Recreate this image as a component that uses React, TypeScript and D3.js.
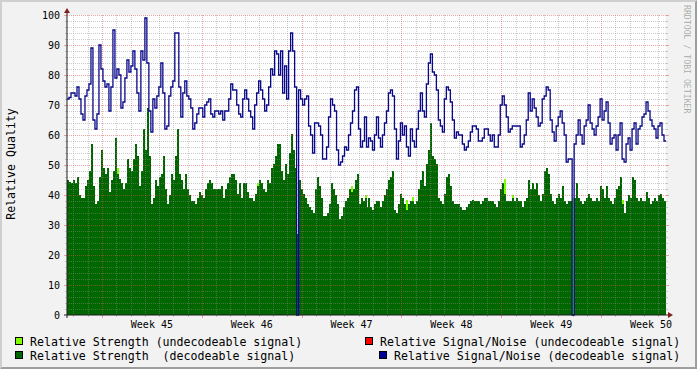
import React, { useEffect } from 'react';
import * as d3 from 'd3';

const WEEK_LABELS = ['Week 45', 'Week 46', 'Week 47', 'Week 48', 'Week 49', 'Week 50'];
const Y_TICKS = [0, 10, 20, 30, 40, 50, 60, 70, 80, 90, 100];

// Relative Signal/Noise (decodeable signal), one value per sample (~3.4 h)
const SNR_DECODEABLE = [
  72, 72.5, 74, 74, 73, 76, 72, 67, 65, 73, 75, 77, 89, 65, 62, 67, 90, 82, 78, 76,
  77, 68, 76, 95, 79, 82, 80, 69, 71, 79, 85, 81, 83, 88, 82, 74, 68, 88, 85, 99,
  84, 68, 61, 72, 69, 73, 76, 84, 74, 62, 63, 73, 76, 78, 94, 94, 76, 66, 74, 78,
  73, 72, 69, 62, 64, 67, 69, 69, 66, 70, 71, 72, 67, 66, 68,
  68, 67, 68, 65, 68, 68, 72, 77, 75, 75, 70, 67, 66, 72, 75, 72, 68, 66, 62, 70,
  74, 78, 75, 72, 68, 70, 76, 82, 80, 88, 87, 80, 88, 74, 83, 72, 88, 94, 88, 76,
  0, 75, 72, 70, 72, 73, 63, 60, 54, 64, 64, 63, 60, 52, 52, 56, 66, 72, 70, 68,
  55, 50, 51, 53, 56, 55, 60, 64, 68, 75, 76, 62, 56, 58, 66,
  56, 59, 58, 55, 60, 66, 59, 56, 60, 64, 68, 74, 75, 73, 62, 52, 58, 64, 60, 63,
  56, 53, 62, 58, 56, 62, 68, 74, 68, 66, 77, 84, 87, 81, 80, 75, 65, 63, 61, 72,
  76, 75, 71, 65, 59, 61, 60, 60, 57, 55, 56, 58, 61, 63, 63, 62, 58, 58, 59, 62,
  62, 60, 58, 60, 56, 56, 60, 70, 73, 70, 66, 61, 62, 63, 63,
  63, 63, 56, 57, 60, 65, 74, 68, 72, 69, 66, 63, 64, 72, 73, 76, 75, 65, 61, 58,
  63, 66, 68, 64, 60, 51, 52, 52, 0, 57, 60, 65, 60, 57, 63, 65, 70, 64, 62, 60,
  63, 66, 72, 65, 68, 71, 64, 57, 59, 60, 55, 60, 64, 52, 51, 57, 59, 55, 62, 64,
  57, 62, 63, 66, 67, 71, 68, 65, 63, 62, 59, 63, 64, 60, 58,
];

// Relative Strength (decodeable signal)
const STRENGTH_DECODEABLE = [
  45, 44.4, 44, 45, 44, 46, 40, 39, 39, 43, 45, 48, 57, 43, 37, 38, 46, 55, 49, 47,
  49, 41, 45, 48, 59, 47, 45.5, 44, 42, 44, 52, 49, 48, 52, 57, 53, 43, 48, 62, 55,
  69, 53, 37, 39, 45, 43, 46, 47, 53, 42, 37, 40, 47, 45, 53, 62, 47, 45, 42, 47,
  42, 40, 38, 38, 37, 39, 41, 40, 39, 42, 44, 45, 44, 42, 42,
  42, 42, 43, 39, 42, 44, 46, 47, 47, 45, 40.5, 44, 39, 44, 44, 41, 39, 39, 38, 40.5,
  43, 45, 44, 42, 41, 45, 44, 49, 50.5, 53, 57, 57, 48, 45, 50.5, 47, 54, 60.5, 55, 49,
  27, 45, 42, 40.5, 39, 37, 36, 35, 34, 42, 46, 43, 39, 33, 33, 34, 37, 44, 42, 40,
  37, 32, 33, 36, 38, 39, 42, 41, 42, 45, 47, 37, 39, 38, 39,
  36, 39, 36, 35, 37, 38, 38, 36, 38, 40, 42, 45, 46, 48, 35, 34, 37, 40.5, 39, 37,
  35, 37, 38, 38, 37, 38, 42, 45, 48, 43, 50.5, 55, 64, 53, 52, 50.5, 39, 38, 37, 40.5,
  46, 47, 43, 38, 37, 37, 37, 36, 35, 35, 36, 37, 38, 38.5, 38, 38, 38, 37, 38, 39,
  39, 38, 38, 38, 37, 36, 38, 42, 44, 40.5, 38, 38, 38, 39, 38,
  39, 38, 38, 36, 38, 39, 45, 42, 44, 42, 44, 40, 38, 40.5, 48, 49, 47, 40.5, 38, 37,
  39, 40.5, 39, 43, 38, 37, 38, 38, 0, 39, 44, 39, 38, 37, 38, 39, 40.5, 39, 38, 38,
  39, 38, 43, 42, 39, 43, 39, 38, 37, 39, 42, 43, 46, 37, 34, 38, 40, 39, 46, 45,
  39, 38, 39, 38, 38, 41, 39, 37, 38, 39, 38, 40, 40.5, 39, 38,
];

// Relative Strength (undecodeable signal): sparse samples
const UNDECODEABLE_INDEX = [25, 95, 142, 149, 170, 173, 219, 223, 253, 278];
const STRENGTH_UNDECODEABLE = [49, 44, 43, 40, 38.5, 39.5, 45.5, 40, 39, 38.5];

const LEGEND_LEFT = ['Relative Strength (undecodeable signal)', 'Relative Strength  (decodeable signal)'];
const LEGEND_RIGHT = ['Relative Signal/Noise (undecodeable signal)', 'Relative Signal/Noise (decodeable signal)'];

const TOTAL_DAYS = 42;
const FIRST_WEEK_START = 2.454; // day offset of the first week boundary

type P = { t: number; v: number };

export default function App() {
  useEffect(() => {
    document.body.style.margin = '0';
  }, []);

  const W = 697, H = 369;
  const x = d3.scaleLinear().domain([0, TOTAL_DAYS]).range([67, 666]);
  const y = d3.scaleLinear().domain([0, 100]).range([315, 15]);
  const n = SNR_DECODEABLE.length;
  const dt = TOTAL_DAYS / n;

  const toPts = (arr: number[]): P[] => {
    const p = arr.map((v, i) => ({ t: i * dt, v }));
    p.push({ t: TOTAL_DAYS, v: arr[arr.length - 1] });
    return p;
  };
  const undec = new Array(n).fill(0);
  UNDECODEABLE_INDEX.forEach((idx, k) => { undec[idx] = STRENGTH_UNDECODEABLE[k]; });

  const area = d3.area<P>().x(d => x(d.t)).y0(y(0)).y1(d => y(d.v)).curve(d3.curveStepAfter);
  const line = d3.line<P>().x(d => x(d.t)).y(d => y(d.v)).curve(d3.curveStepAfter);

  const hGrid = d3.range(2, 101, 2);
  const vGrid: { t: number; major: boolean }[] = [];
  for (let k = -3; k < 45; k++) {
    const t = FIRST_WEEK_START + k;
    if (t > 0.01 && t < TOTAL_DAYS - 0.01) vGrid.push({ t, major: k % 7 === 0 });
  }
  const minorCol = 'rgba(143,143,143,0.45)';
  const majorCol = 'rgba(222,79,79,0.5)';
  const mono = 'DejaVu Sans Mono';

  return (
    <svg width={W} height={H} style={{ display: 'block' }} xmlns="http://www.w3.org/2000/svg">
      <rect x={0} y={0} width={W} height={H} fill="#f2f2f2" />
      <polygon points={`0,0 ${W},0 ${W - 2},2 2,2 2,${H - 2} 0,${H}`} fill="#cfcfcf" />
      <polygon points={`${W},0 ${W},${H} 0,${H} 2,${H - 2} ${W - 2},${H - 2} ${W - 2},2`} fill="#9e9e9e" />
      <rect x={67} y={15} width={599} height={300} fill="#ffffff" />

      <path d={area(toPts(undec)) || ''} fill="#7fff00" shapeRendering="crispEdges" />
      <path d={area(toPts(STRENGTH_DECODEABLE)) || ''} fill="#006600" shapeRendering="crispEdges" />

      {hGrid.filter(v => v % 10 !== 0).map(v => (
        <g key={'hm' + v}>
          <line x1={67} x2={666} y1={Math.round(y(v)) + 0.5} y2={Math.round(y(v)) + 0.5} stroke={minorCol} strokeDasharray="1,1" />
          <line x1={65} x2={67} y1={Math.round(y(v)) + 0.5} y2={Math.round(y(v)) + 0.5} stroke={minorCol} />
          <line x1={666} x2={668} y1={Math.round(y(v)) + 0.5} y2={Math.round(y(v)) + 0.5} stroke={minorCol} />
        </g>
      ))}
      {vGrid.filter(g => !g.major).map(g => (
        <g key={'vm' + g.t}>
          <line x1={Math.round(x(g.t)) + 0.5} x2={Math.round(x(g.t)) + 0.5} y1={15} y2={315} stroke={minorCol} strokeDasharray="1,1" />
          <line x1={Math.round(x(g.t)) + 0.5} x2={Math.round(x(g.t)) + 0.5} y1={315} y2={317} stroke={minorCol} />
        </g>
      ))}
      {hGrid.filter(v => v % 10 === 0).map(v => (
        <g key={'hM' + v}>
          <line x1={67} x2={666} y1={Math.round(y(v)) + 0.5} y2={Math.round(y(v)) + 0.5} stroke={majorCol} strokeDasharray="1,1" />
          <line x1={64} x2={67} y1={Math.round(y(v)) + 0.5} y2={Math.round(y(v)) + 0.5} stroke={majorCol} />
          <line x1={666} x2={669} y1={Math.round(y(v)) + 0.5} y2={Math.round(y(v)) + 0.5} stroke={majorCol} />
        </g>
      ))}
      {vGrid.filter(g => g.major).map(g => (
        <g key={'vM' + g.t}>
          <line x1={Math.round(x(g.t)) + 0.5} x2={Math.round(x(g.t)) + 0.5} y1={15} y2={315} stroke={majorCol} strokeDasharray="1,1" />
          <line x1={Math.round(x(g.t)) + 0.5} x2={Math.round(x(g.t)) + 0.5} y1={315} y2={318} stroke={majorCol} />
        </g>
      ))}

      <path d={line(toPts(SNR_DECODEABLE)) || ''} fill="none" stroke="#08088a" strokeWidth={1.3} />

      {/* axes */}
      <line x1={67} x2={67} y1={12} y2={318} stroke="#1f1f1f" strokeWidth={1} />
      <line x1={64} x2={669} y1={315} y2={315} stroke="#1f1f1f" strokeWidth={1} />
      <polygon points="64,13 70,13 67,8" fill="#801f1f" />
      <polygon points="668,312 668,318 673,315" fill="#801f1f" />

      {Y_TICKS.map(v => (
        <text key={'yl' + v} x={60} y={Math.round(y(v)) + 3.5} textAnchor="end" fontFamily={mono} fontSize={10} fill="#000">{v}</text>
      ))}
      {WEEK_LABELS.map((lab, k) => (
        <text key={lab} x={x(FIRST_WEEK_START + 3.5 + 7 * k)} y={328} textAnchor="middle" fontFamily={mono} fontSize={10} fill="#000">{lab}</text>
      ))}

      <text transform="translate(15,164) rotate(-90)" textAnchor="middle" fontFamily={mono} fontSize={11.6} fill="#000">Relative Quality</text>
      <text transform="translate(684,5) rotate(90)" textAnchor="start" fontFamily={mono} fontSize={8.2} fill="rgba(0,0,0,0.33)">RRDTOOL / TOBI OETIKER</text>

      {/* legend */}
      <rect x={15.5} y={337.5} width={7} height={7} fill="#7fff00" stroke="#000" strokeWidth={1} />
      <text x={30} y={345.5} fontFamily={mono} fontSize={11.6} fill="#000" style={{ whiteSpace: 'pre' }}>{LEGEND_LEFT[0]}</text>
      <rect x={15.5} y={351.5} width={7} height={7} fill="#006600" stroke="#000" strokeWidth={1} />
      <text x={30} y={359.5} fontFamily={mono} fontSize={11.6} fill="#000" style={{ whiteSpace: 'pre' }}>{LEGEND_LEFT[1]}</text>
      <rect x={365.5} y={337.5} width={7} height={7} fill="#ff0000" stroke="#000" strokeWidth={1} />
      <text x={380} y={345.5} fontFamily={mono} fontSize={11.6} fill="#000" style={{ whiteSpace: 'pre' }}>{LEGEND_RIGHT[0]}</text>
      <rect x={379.5} y={351.5} width={7} height={7} fill="#000099" stroke="#000" strokeWidth={1} />
      <text x={394} y={359.5} fontFamily={mono} fontSize={11.6} fill="#000" style={{ whiteSpace: 'pre' }}>{LEGEND_RIGHT[1]}</text>
    </svg>
  );
}
